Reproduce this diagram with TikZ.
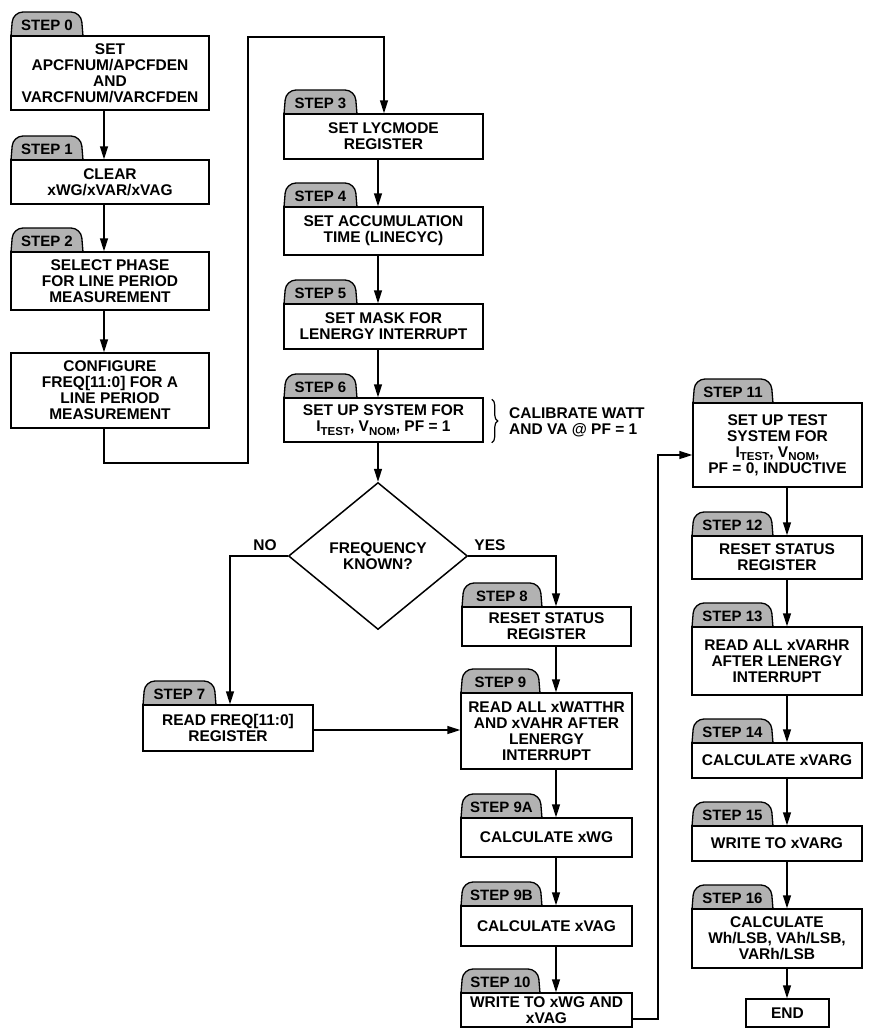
\documentclass[tikz,border=0pt]{standalone}
\usepackage{fontspec}
\setmainfont{Liberation Sans}
\usetikzlibrary{arrows.meta,shapes.geometric,decorations.pathreplacing}
\definecolor{tabgray}{RGB}{178,178,178}
\newcommand\lowsub[1]{\raisebox{-0.4ex}{\fontsize{11.5}{11.5}\selectfont #1}}
\tikzset{
  box/.style={draw, line width=1.5pt, fill=white, align=center,
    font=\bfseries\fontsize{15.5}{16}\selectfont, inner sep=0pt},
  tabshape/.style={draw, line width=1.3pt, fill=tabgray},
  tablbl/.style={font=\bfseries\fontsize{15}{16}\selectfont, inner sep=0pt},
  lbl/.style={font=\bfseries\fontsize{15.5}{16}\selectfont, inner sep=0pt, align=left},
  arr/.style={line width=1.5pt, -{Triangle[length=13pt,width=8pt]}},
  conn/.style={line width=1.5pt},
}
\newcommand\mkbox[6]{%
  \pgfmathsetmacro\bw{#4-#2}\pgfmathsetmacro\bh{#5-#3}%
  \node[box, minimum width=\bw pt, minimum height=\bh pt]
    (#1) at ({(#2+#4)/2},{(#3+#5)/2}) {#6};}
\newcommand\mktab[5]{%
  \filldraw[tabshape, rounded corners=10pt] (#2,#3) -- (#2+2,#3-24) -- (#2+#4-2,#3-24) -- (#2+#4,#3);
  \node[tablbl] (#1) at (#2+#4/2,#3-11) {#5};}
\begin{document}
\begin{tikzpicture}[x=1pt,y=-1pt]
\useasboundingbox (0,0) rectangle (876,1029);
% arrow columns
\coordinate (c1) at (104,0);
\coordinate (c2) at (378,0);
\coordinate (c3) at (556,0);
\coordinate (c4) at (787,0);
\coordinate (k1) at (248,463);
\coordinate (k2) at (384,37);
\coordinate (kno) at (230,556);
\coordinate (kyes) at (556,556);
\coordinate (k3) at (658,455);
% tabs
\mktab{t0}{11}{36}{72}{STEP 0}
\mktab{t1}{11}{160}{72}{STEP 1}
\mktab{t2}{11}{252}{72}{STEP 2}
\mktab{t3}{284}{114}{73}{STEP 3}
\mktab{t4}{284}{207}{73}{STEP 4}
\mktab{t5}{284}{304}{73}{STEP 5}
\mktab{t6}{284}{398}{73}{STEP 6}
\mktab{t7}{143}{705}{73}{STEP 7}
\mktab{t8}{462}{607}{80}{STEP 8}
\mktab{t9}{461}{693}{79}{STEP 9}
\mktab{t9a}{461}{818}{81}{STEP 9A}
\mktab{t9b}{461}{906}{81}{STEP 9B}
\mktab{t10}{461}{993}{79}{STEP 10}
\mktab{t11}{693}{403}{80}{STEP 11}
\mktab{t12}{692}{536}{81}{STEP 12}
\mktab{t13}{692}{627}{81}{STEP 13}
\mktab{t14}{692}{743}{81}{STEP 14}
\mktab{t15}{692}{826}{81}{STEP 15}
\mktab{t16}{692}{909}{81}{STEP 16}
% boxes
\mkbox{s0}{11}{36}{209}{110}{SET\\APCFNUM/APCFDEN\\AND\\VARCFNUM/VARCFDEN}
\mkbox{s1}{11}{160}{209}{204}{CLEAR\\xWG/xVAR/xVAG}
\mkbox{s2}{11}{252}{209}{310}{SELECT PHASE\\FOR LINE PERIOD\\MEASUREMENT}
\mkbox{cfg}{11}{353}{209}{428}{CONFIGURE\\FREQ[11:0] FOR A\\LINE PERIOD\\MEASUREMENT}
\mkbox{s3}{284}{114}{483}{159}{SET LYCMODE\\REGISTER}
\mkbox{s4}{284}{207}{483}{255}{SET ACCUMULATION\\TIME (LINECYC)}
\mkbox{s5}{284}{304}{483}{349}{SET MASK FOR\\LENERGY INTERRUPT}
\mkbox{s6}{284}{398}{483}{442}{SET UP SYSTEM FOR\\I\lowsub{TEST}, V\lowsub{NOM}, PF = 1}
\mkbox{s7}{143}{705}{313}{751}{READ FREQ[11:0]\\REGISTER}
\mkbox{s8}{462}{607}{631}{646}{RESET STATUS\\REGISTER}
\mkbox{s9}{461}{693}{632}{769}{READ ALL xWATTHR\\AND xVAHR AFTER\\LENERGY\\INTERRUPT}
\mkbox{s9a}{461}{818}{632}{857}{CALCULATE xWG}
\mkbox{s9b}{461}{906}{632}{946}{CALCULATE xVAG}
\mkbox{s10}{461}{993}{632}{1027}{WRITE TO xWG AND\\xVAG}
\mkbox{s11}{693}{403}{862}{487}{SET UP TEST\\SYSTEM FOR\\I\lowsub{TEST}, V\lowsub{NOM},\\PF = 0, INDUCTIVE}
\mkbox{s12}{692}{536}{862}{579}{RESET STATUS\\REGISTER}
\mkbox{s13}{692}{627}{862}{695}{READ ALL xVARHR\\AFTER LENERGY\\INTERRUPT}
\mkbox{s14}{692}{743}{862}{778}{CALCULATE xVARG}
\mkbox{s15}{692}{826}{862}{861}{WRITE TO xVARG}
\mkbox{s16}{692}{909}{862}{968}{CALCULATE\\Wh/LSB, VAh/LSB,\\VARh/LSB}
\mkbox{send}{746}{999}{829}{1027}{END}
% decision
\node[diamond, draw, line width=1.5pt, minimum width=179pt, minimum height=147pt,
  inner sep=0pt, align=center, font=\bfseries\fontsize{15.5}{16}\selectfont]
  (dec) at (378,556) {FREQUENCY\\KNOWN?};
% labels
\node[lbl] (no) at (265,545) {NO};
\node[lbl] (yes) at (490,545) {YES};
\node[lbl, anchor=west] (cal) at (509,422) {CALIBRATE WATT\\AND VA @ PF = 1};
\draw[line width=1.2pt, decorate, decoration={brace, amplitude=6pt}]
  (s6.north east) ++(8,2) coordinate (b1) -- ([xshift=8pt]s6.south east);
% connectors
\draw[arr] (s0.south -| c1) -- (s1.north -| c1);
\draw[arr] (s1.south -| c1) -- (s2.north -| c1);
\draw[arr] (s2.south -| c1) -- (cfg.north -| c1);
\draw[arr] (cfg.south -| c1) |- (k1) |- (k2) -- (s3.north -| k2);
\draw[arr] (s3.south -| c2) -- (s4.north -| c2);
\draw[arr] (s4.south -| c2) -- (s5.north -| c2);
\draw[arr] (s5.south -| c2) -- (s6.north -| c2);
\draw[arr] (s6.south -| c2) -- (dec.north);
\draw[arr] (dec.west) -- (kno) -- (s7.north -| kno);
\draw[arr] (dec.east) -- (kyes) -- (s8.north -| kyes);
\draw[arr] (s7.east) ++(0,2) -- ([yshift=-2pt]s9.west |- s7.east);
\draw[arr] (s8.south -| c3) -- (s9.north -| c3);
\draw[arr] (s9.south -| c3) -- (s9a.north -| c3);
\draw[arr] (s9a.south -| c3) -- (s9b.north -| c3);
\draw[arr] (s9b.south -| c3) -- (s10.north -| c3);
\draw[arr] ([yshift=-9pt]s10.east) -| (k3) -- (k3 -| s11.west);
\draw[arr] (s11.south -| c4) -- (s12.north -| c4);
\draw[arr] (s12.south -| c4) -- (s13.north -| c4);
\draw[arr] (s13.south -| c4) -- (s14.north -| c4);
\draw[arr] (s14.south -| c4) -- (s15.north -| c4);
\draw[arr] (s15.south -| c4) -- (s16.north -| c4);
\draw[arr] (s16.south -| c4) -- (send.north -| c4);
\end{tikzpicture}
\end{document}
